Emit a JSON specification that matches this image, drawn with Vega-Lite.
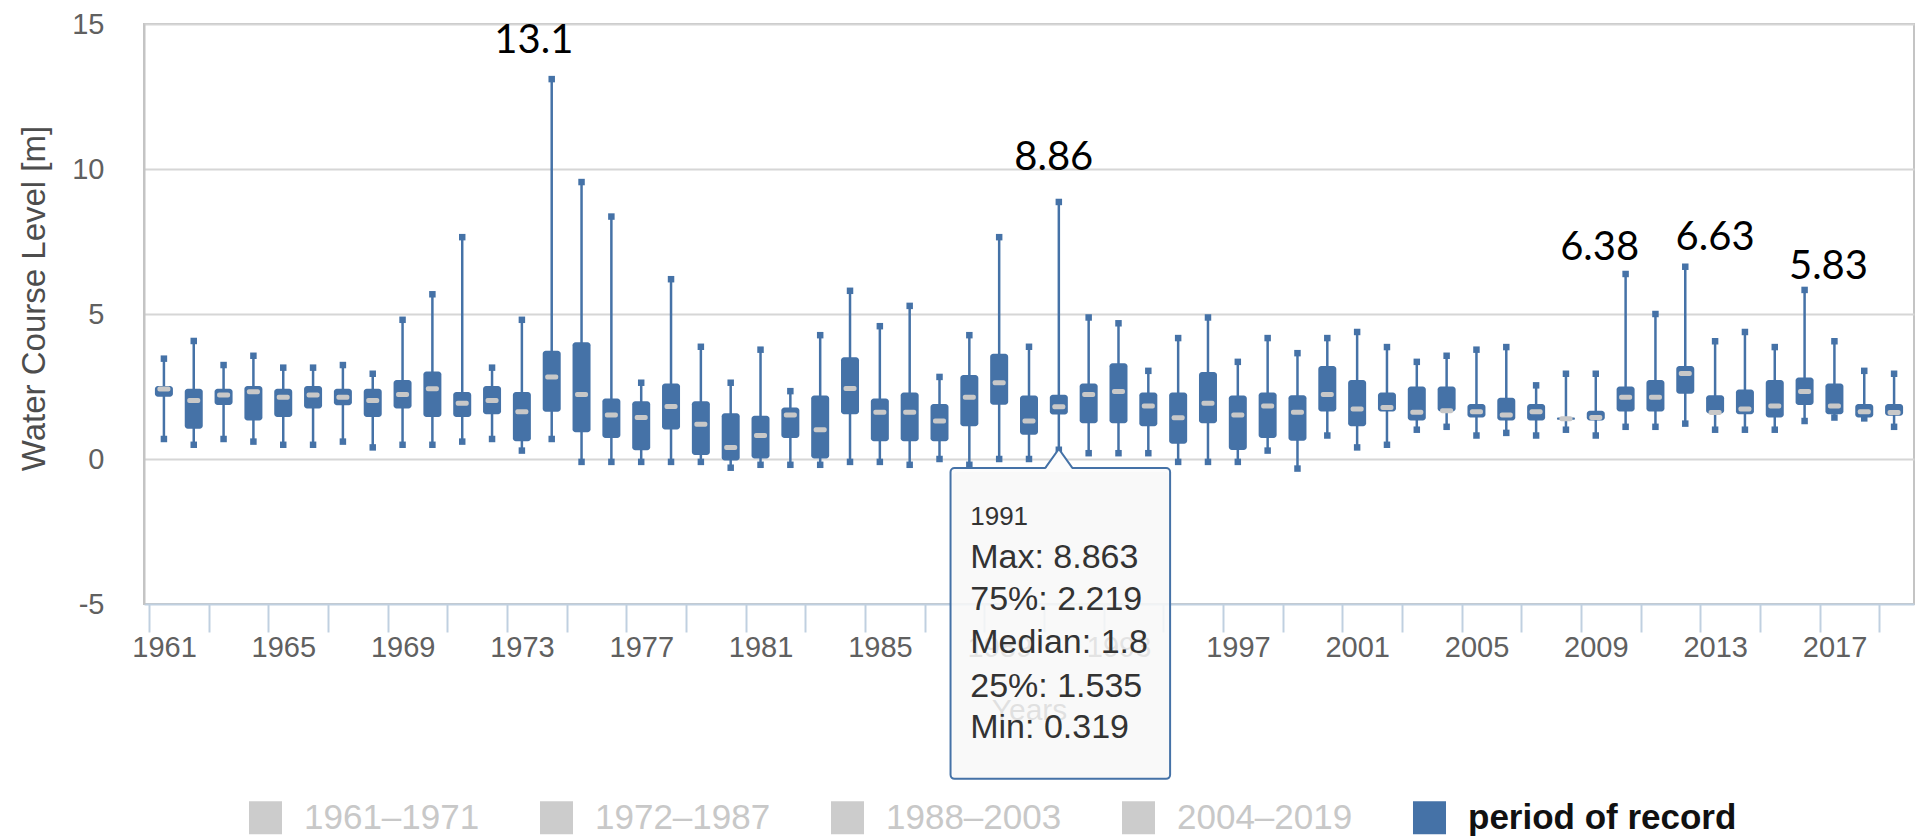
{
  "$schema": "https://vega.github.io/schema/vega-lite/v6.json",
  "width": 1770,
  "height": 580,
  "autosize": {"type": "none"},
  "padding": {"left": 144, "top": 24, "right": 12, "bottom": 234},
  "background": "white",
  "config": {
    "view": {"stroke": "#c4c4c4", "strokeWidth": 2},
    "font": "Liberation Sans",
    "axis": {"labelFont": "Liberation Sans", "titleFont": "Liberation Sans"}
  },
  "datasets": {
    "boxes": [
      {"year": 1961, "min": 0.69, "q1": 2.15, "median": 2.41, "q3": 2.52, "max": 3.46, "series": "period of record"},
      {"year": 1962, "min": 0.49, "q1": 1.04, "median": 2.02, "q3": 2.42, "max": 4.07, "series": "period of record"},
      {"year": 1963, "min": 0.69, "q1": 1.86, "median": 2.21, "q3": 2.42, "max": 3.24, "series": "period of record"},
      {"year": 1964, "min": 0.60, "q1": 1.33, "median": 2.32, "q3": 2.52, "max": 3.56, "series": "period of record"},
      {"year": 1965, "min": 0.49, "q1": 1.45, "median": 2.13, "q3": 2.42, "max": 3.15, "series": "period of record"},
      {"year": 1966, "min": 0.49, "q1": 1.74, "median": 2.21, "q3": 2.52, "max": 3.15, "series": "period of record"},
      {"year": 1967, "min": 0.60, "q1": 1.85, "median": 2.13, "q3": 2.42, "max": 3.24, "series": "period of record"},
      {"year": 1968, "min": 0.40, "q1": 1.45, "median": 2.02, "q3": 2.42, "max": 2.94, "series": "period of record"},
      {"year": 1969, "min": 0.49, "q1": 1.74, "median": 2.22, "q3": 2.72, "max": 4.80, "series": "period of record"},
      {"year": 1970, "min": 0.49, "q1": 1.45, "median": 2.42, "q3": 3.02, "max": 5.68, "series": "period of record"},
      {"year": 1971, "min": 0.60, "q1": 1.45, "median": 1.92, "q3": 2.31, "max": 7.65, "series": "period of record"},
      {"year": 1972, "min": 0.69, "q1": 1.54, "median": 2.02, "q3": 2.52, "max": 3.15, "series": "period of record"},
      {"year": 1973, "min": 0.29, "q1": 0.61, "median": 1.63, "q3": 2.31, "max": 4.80, "series": "period of record"},
      {"year": 1974, "min": 0.69, "q1": 1.63, "median": 2.83, "q3": 3.73, "max": 13.1, "series": "period of record"},
      {"year": 1975, "min": -0.10, "q1": 0.92, "median": 2.22, "q3": 4.03, "max": 9.55, "series": "period of record"},
      {"year": 1976, "min": -0.10, "q1": 0.72, "median": 1.52, "q3": 2.09, "max": 8.36, "series": "period of record"},
      {"year": 1977, "min": -0.10, "q1": 0.30, "median": 1.43, "q3": 1.99, "max": 2.63, "series": "period of record"},
      {"year": 1978, "min": -0.10, "q1": 1.02, "median": 1.81, "q3": 2.60, "max": 6.20, "series": "period of record"},
      {"year": 1979, "min": -0.10, "q1": 0.14, "median": 1.20, "q3": 1.99, "max": 3.87, "series": "period of record"},
      {"year": 1980, "min": -0.30, "q1": -0.05, "median": 0.40, "q3": 1.58, "max": 2.63, "series": "period of record"},
      {"year": 1981, "min": -0.20, "q1": 0.02, "median": 0.81, "q3": 1.49, "max": 3.77, "series": "period of record"},
      {"year": 1982, "min": -0.20, "q1": 0.72, "median": 1.52, "q3": 1.78, "max": 2.34, "series": "period of record"},
      {"year": 1983, "min": -0.20, "q1": 0.02, "median": 1.01, "q3": 2.19, "max": 4.27, "series": "period of record"},
      {"year": 1984, "min": -0.10, "q1": 1.54, "median": 2.43, "q3": 3.51, "max": 5.80, "series": "period of record"},
      {"year": 1985, "min": -0.10, "q1": 0.61, "median": 1.61, "q3": 2.09, "max": 4.58, "series": "period of record"},
      {"year": 1986, "min": -0.20, "q1": 0.61, "median": 1.61, "q3": 2.29, "max": 5.28, "series": "period of record"},
      {"year": 1987, "min": 0.00, "q1": 0.61, "median": 1.31, "q3": 1.90, "max": 2.83, "series": "period of record"},
      {"year": 1988, "min": -0.20, "q1": 1.13, "median": 2.13, "q3": 2.90, "max": 4.27, "series": "period of record"},
      {"year": 1989, "min": 0.00, "q1": 1.87, "median": 2.63, "q3": 3.63, "max": 7.65, "series": "period of record"},
      {"year": 1990, "min": 0.00, "q1": 0.84, "median": 1.31, "q3": 2.19, "max": 3.87, "series": "period of record"},
      {"year": 1991, "min": 0.319, "q1": 1.535, "median": 1.8, "q3": 2.219, "max": 8.863, "series": "period of record"},
      {"year": 1992, "min": 0.20, "q1": 1.23, "median": 2.22, "q3": 2.60, "max": 4.88, "series": "period of record"},
      {"year": 1993, "min": 0.20, "q1": 1.23, "median": 2.33, "q3": 3.30, "max": 4.68, "series": "period of record"},
      {"year": 1994, "min": 0.20, "q1": 1.13, "median": 1.83, "q3": 2.29, "max": 3.04, "series": "period of record"},
      {"year": 1995, "min": -0.10, "q1": 0.53, "median": 1.42, "q3": 2.29, "max": 4.17, "series": "period of record"},
      {"year": 1996, "min": -0.10, "q1": 1.23, "median": 1.92, "q3": 3.00, "max": 4.88, "series": "period of record"},
      {"year": 1997, "min": -0.10, "q1": 0.31, "median": 1.52, "q3": 2.19, "max": 3.35, "series": "period of record"},
      {"year": 1998, "min": 0.29, "q1": 0.72, "median": 1.83, "q3": 2.29, "max": 4.17, "series": "period of record"},
      {"year": 1999, "min": -0.33, "q1": 0.63, "median": 1.61, "q3": 2.20, "max": 3.65, "series": "period of record"},
      {"year": 2000, "min": 0.81, "q1": 1.64, "median": 2.22, "q3": 3.21, "max": 4.17, "series": "period of record"},
      {"year": 2001, "min": 0.40, "q1": 1.13, "median": 1.72, "q3": 2.72, "max": 4.38, "series": "period of record"},
      {"year": 2002, "min": 0.49, "q1": 1.64, "median": 1.78, "q3": 2.29, "max": 3.86, "series": "period of record"},
      {"year": 2003, "min": 1.01, "q1": 1.33, "median": 1.61, "q3": 2.50, "max": 3.35, "series": "period of record"},
      {"year": 2004, "min": 1.11, "q1": 1.64, "median": 1.66, "q3": 2.50, "max": 3.56, "series": "period of record"},
      {"year": 2005, "min": 0.81, "q1": 1.43, "median": 1.63, "q3": 1.90, "max": 3.77, "series": "period of record"},
      {"year": 2006, "min": 0.90, "q1": 1.33, "median": 1.52, "q3": 2.11, "max": 3.86, "series": "period of record"},
      {"year": 2007, "min": 0.81, "q1": 1.33, "median": 1.63, "q3": 1.90, "max": 2.54, "series": "period of record"},
      {"year": 2008, "min": 1.01, "q1": 1.35, "median": 1.39, "q3": 1.43, "max": 2.94, "series": "period of record"},
      {"year": 2009, "min": 0.81, "q1": 1.33, "median": 1.43, "q3": 1.66, "max": 2.94, "series": "period of record"},
      {"year": 2010, "min": 1.11, "q1": 1.64, "median": 2.13, "q3": 2.50, "max": 6.38, "series": "period of record"},
      {"year": 2011, "min": 1.11, "q1": 1.64, "median": 2.13, "q3": 2.72, "max": 5.00, "series": "period of record"},
      {"year": 2012, "min": 1.22, "q1": 2.25, "median": 2.95, "q3": 3.21, "max": 6.63, "series": "period of record"},
      {"year": 2013, "min": 1.01, "q1": 1.57, "median": 1.60, "q3": 2.20, "max": 4.06, "series": "period of record"},
      {"year": 2014, "min": 1.01, "q1": 1.54, "median": 1.72, "q3": 2.40, "max": 4.38, "series": "period of record"},
      {"year": 2015, "min": 1.01, "q1": 1.43, "median": 1.83, "q3": 2.72, "max": 3.86, "series": "period of record"},
      {"year": 2016, "min": 1.31, "q1": 1.86, "median": 2.33, "q3": 2.81, "max": 5.83, "series": "period of record"},
      {"year": 2017, "min": 1.43, "q1": 1.54, "median": 1.83, "q3": 2.60, "max": 4.06, "series": "period of record"},
      {"year": 2018, "min": 1.40, "q1": 1.43, "median": 1.63, "q3": 1.90, "max": 3.04, "series": "period of record"},
      {"year": 2019, "min": 1.11, "q1": 1.49, "median": 1.60, "q3": 1.90, "max": 2.94, "series": "period of record"}
    ],
    "notes": [
      {"label": "13.1", "year": 1973.4, "level": 14.0},
      {"label": "8.86", "year": 1990.83, "level": 9.97},
      {"label": "6.38", "year": 2009.13, "level": 6.86},
      {"label": "6.63", "year": 2013.0, "level": 7.21},
      {"label": "5.83", "year": 2016.8, "level": 6.21}
    ],
    "tip": [
      {"x0": 1987.37, "x1": 1994.73, "top": -0.31, "bottom": -11.03}
    ],
    "pointer": [
      {"year": 1991, "level": 0.02}
    ],
    "tiphead": [
      {"t": "1991", "year": 1988.03, "level": -2.28}
    ],
    "tiplines": [
      {"t": "Max: 8.863", "year": 1988.03, "level": -3.76},
      {"t": "75%: 2.219", "year": 1988.03, "level": -5.21},
      {"t": "Median: 1.8", "year": 1988.03, "level": -6.69},
      {"t": "25%: 1.535", "year": 1988.03, "level": -8.21},
      {"t": "Min: 0.319", "year": 1988.03, "level": -9.62}
    ]
  },
  "layer": [
    {
      "data": {"name": "boxes"},
      "mark": {"type": "rule", "color": "#4572A7", "strokeWidth": 2.5},
      "encoding": {
        "x": {
          "field": "year", "type": "quantitative", "title": "Years",
          "scale": {"domain": [1960.5, 2019.5], "nice": false, "zero": false},
          "axis": {
            "values": [1960.5,1961.5,1962.5,1963.5,1964.5,1965.5,1966.5,1967.5,1968.5,1969.5,1970.5,1971.5,1972.5,1973.5,1974.5,1975.5,1976.5,1977.5,1978.5,1979.5,1980.5,1981.5,1982.5,1983.5,1984.5,1985.5,1986.5,1987.5,1988.5,1989.5,1990.5,1991.5,1992.5,1993.5,1994.5,1995.5,1996.5,1997.5,1998.5,1999.5,2000.5,2001.5,2002.5,2003.5,2004.5,2005.5,2006.5,2007.5,2008.5,2009.5,2010.5,2011.5,2012.5,2013.5,2014.5,2015.5,2016.5,2017.5,2018.5,2019.5],
            "labelExpr": "((datum.value + 0.5 - 1961) % 4 == 0) ? ('' + (datum.value + 0.5)) : ''",
            "labelOffset": 15,
            "labelFontSize": 29,
            "labelColor": "#606060",
            "labelPadding": 1,
            "labelOverlap": false,
            "labelFlush": false,
            "labelBound": false,
            "tickColor": "#c0d0e0",
            "tickWidth": 2,
            "tickSize": 28,
            "domainColor": "#c0d0e0",
            "domainWidth": 2,
            "grid": false,
            "titleFontSize": 30,
            "titleFontWeight": "normal",
            "titleColor": "#4d4d4d",
            "titleX": 885,
            "titleY": 106,
            "titleAlign": "center",
            "titleBaseline": "middle"
          }
        },
        "y": {
          "field": "min", "type": "quantitative", "title": "Water Course Level [m]",
          "scale": {"domain": [-5, 15], "nice": false, "zero": false},
          "axis": {
            "values": [-5, 0, 5, 10, 15],
            "labelExpr": "'' + datum.value",
            "grid": true,
            "gridColor": {"condition": {"test": "datum.value == -5", "value": "transparent"}, "value": "#d6d6d6"},
            "gridWidth": 2,
            "ticks": false,
            "domainColor": "#c4c4c4",
            "domainWidth": 2,
            "labelFontSize": 29,
            "labelColor": "#606060",
            "labelPadding": 40,
            "titleFontSize": 33,
            "titleFontWeight": "normal",
            "titleColor": "#4d4d4d",
            "titleX": -110,
            "titleY": 274,
            "titleAngle": -90,
            "titleAlign": "center",
            "titleBaseline": "middle"
          }
        },
        "y2": {"field": "max"}
      }
    },
    {
      "data": {"name": "boxes"},
      "mark": {"type": "bar", "width": 18, "cornerRadius": 3},
      "encoding": {
        "x": {"field": "year", "type": "quantitative", "title": "Years"},
        "y": {"field": "q1", "type": "quantitative", "title": "Water Course Level [m]"},
        "y2": {"field": "q3"},
        "color": {
          "field": "series", "type": "nominal",
          "scale": {
            "domain": ["1961–1971", "1972–1987", "1988–2003", "2004–2019", "period of record"],
            "range": ["#cccccc", "#cccccc", "#cccccc", "#cccccc", "#4572A7"]
          },
          "legend": {
            "title": null,
            "orient": "none",
            "legendX": 104,
            "legendY": 776,
            "direction": "horizontal",
            "columns": 5,
            "columnPadding": 59,
            "padding": 0,
            "symbolType": "square",
            "symbolSize": 1090,
            "symbolStrokeWidth": 0,
            "labelFont": "Liberation Sans",
            "labelFontSize": 35,
            "labelOffset": 21,
            "labelLimit": 400,
            "labelColor": {"expr": "datum.value == 'period of record' ? '#111111' : '#c8c8c8'"},
            "labelFontWeight": {"expr": "datum.value == 'period of record' ? 'bold' : 'normal'"}
          }
        }
      }
    },
    {
      "data": {"name": "boxes"},
      "mark": {"type": "tick", "orient": "horizontal", "size": 13, "thickness": 5, "color": "#c8c8c8", "cornerRadius": 2, "opacity": 1},
      "encoding": {
        "x": {"field": "year", "type": "quantitative", "title": "Years"},
        "y": {"field": "median", "type": "quantitative", "title": "Water Course Level [m]"}
      }
    },
    {
      "data": {"name": "boxes"},
      "mark": {"type": "point", "shape": "square", "size": 42, "filled": true, "color": "#4572A7", "opacity": 1},
      "encoding": {
        "x": {"field": "year", "type": "quantitative", "title": "Years"},
        "y": {"field": "max", "type": "quantitative", "title": "Water Course Level [m]"}
      }
    },
    {
      "data": {"name": "boxes"},
      "mark": {"type": "point", "shape": "square", "size": 42, "filled": true, "color": "#4572A7", "opacity": 1},
      "encoding": {
        "x": {"field": "year", "type": "quantitative", "title": "Years"},
        "y": {"field": "min", "type": "quantitative", "title": "Water Course Level [m]"}
      }
    },
    {
      "data": {"name": "notes"},
      "mark": {"type": "text", "font": "Lato", "fontSize": 40, "color": "#000000", "align": "center", "baseline": "alphabetic"},
      "encoding": {
        "x": {"field": "year", "type": "quantitative", "title": "Years"},
        "y": {"field": "level", "type": "quantitative", "title": "Water Course Level [m]"},
        "text": {"field": "label"}
      }
    },
    {
      "data": {"name": "tip"},
      "mark": {"type": "rect", "fill": "#000000", "fillOpacity": 0.08, "cornerRadius": 5, "xOffset": 2, "yOffset": 4},
      "encoding": {
        "x": {"field": "x0", "type": "quantitative", "title": "Years"},
        "x2": {"field": "x1"},
        "y": {"field": "top", "type": "quantitative", "title": "Water Course Level [m]"},
        "y2": {"field": "bottom"}
      }
    },
    {
      "data": {"name": "tip"},
      "mark": {"type": "rect", "fill": "#fbfbfb", "fillOpacity": 0.85, "stroke": "#4572A7", "strokeWidth": 2, "cornerRadius": 4},
      "encoding": {
        "x": {"field": "x0", "type": "quantitative", "title": "Years"},
        "x2": {"field": "x1"},
        "y": {"field": "top", "type": "quantitative", "title": "Water Course Level [m]"},
        "y2": {"field": "bottom"}
      }
    },
    {
      "data": {"name": "pointer"},
      "mark": {"type": "point", "shape": "M-1,0.8L0,-0.7L1,0.8Z", "size": 729, "filled": true, "color": "#fcfcfc", "opacity": 1, "strokeWidth": 0},
      "encoding": {
        "x": {"field": "year", "type": "quantitative", "title": "Years"},
        "y": {"field": "level", "type": "quantitative", "title": "Water Course Level [m]"}
      }
    },
    {
      "data": {"name": "pointer"},
      "mark": {"type": "point", "shape": "M-1,0.7L0,-0.7L1,0.7", "size": 729, "filled": false, "color": "#4572A7", "opacity": 1, "strokeWidth": 2},
      "encoding": {
        "x": {"field": "year", "type": "quantitative", "title": "Years"},
        "y": {"field": "level", "type": "quantitative", "title": "Water Course Level [m]"}
      }
    },
    {
      "data": {"name": "tiphead"},
      "mark": {"type": "text", "font": "Liberation Sans", "fontSize": 26, "color": "#333333", "align": "left", "baseline": "alphabetic"},
      "encoding": {
        "x": {"field": "year", "type": "quantitative", "title": "Years"},
        "y": {"field": "level", "type": "quantitative", "title": "Water Course Level [m]"},
        "text": {"field": "t"}
      }
    },
    {
      "data": {"name": "tiplines"},
      "mark": {"type": "text", "font": "Liberation Sans", "fontSize": 34, "color": "#333333", "align": "left", "baseline": "alphabetic"},
      "encoding": {
        "x": {"field": "year", "type": "quantitative", "title": "Years"},
        "y": {"field": "level", "type": "quantitative", "title": "Water Course Level [m]"},
        "text": {"field": "t"}
      }
    }
  ]
}
